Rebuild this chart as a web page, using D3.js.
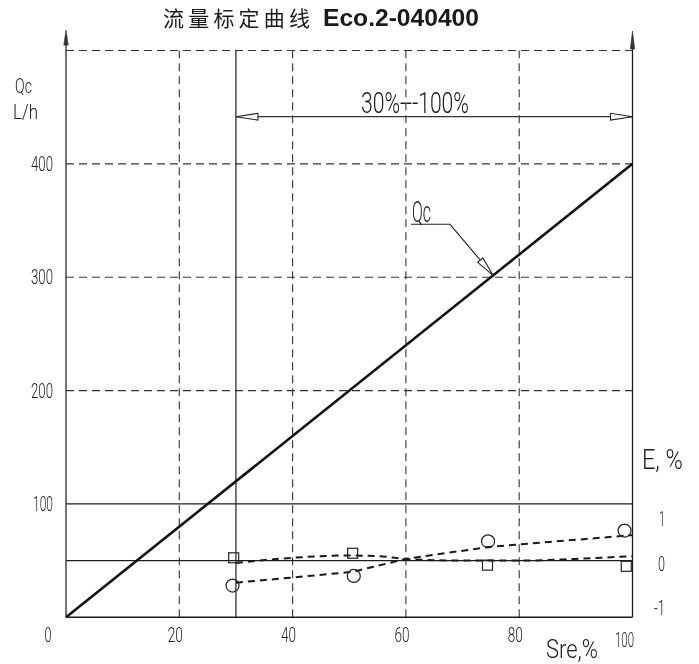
<!DOCTYPE html>
<html>
<head>
<meta charset="utf-8">
<script src="https://cdn.jsdelivr.net/npm/d3@7"></script>
<style>
  html, body { margin: 0; padding: 0; background: #fff; }
  svg { display: block; }
  .tech { font-family: Roboto, "DejaVu Sans", sans-serif; font-weight: 300; fill: #1a1a1a; }
</style>
</head>
<body>
<svg id="chart" width="699" height="664"></svg>
<script>
// Flow calibration curve: Qc (L/h) against stroke setting Sre (%),
// with the metering error E (%) plotted on the secondary band below.

const titleCn = "流量标定曲线";
const titleLatin = "Eco.2-040400";

const xTicks = [0, 20, 40, 60, 80, 100];
const yTicks = [100, 200, 300, 400];
const eTicks = [-1, 0, 1];
const gridX = [20, 40, 60, 80];
const gridYDashed = [200, 300, 400, 500];
const gridYSolid = [50, 100];

// Qc characteristic (straight line through the origin)
const qcX = [0, 100];
const qcQ = [0, 400];

// Error measurements, E in %
const squareX = [29.6, 50.6, 74.4, 98.9];
const squareE = [0.05, 0.13, -0.08, -0.10];
const circleX = [29.4, 50.8, 74.5, 98.6];
const circleE = [-0.44, -0.27, 0.34, 0.53];

// Fitted error trends
const squareFitX = [30, 40, 50, 55, 60, 70, 80, 90, 100];
const squareFitE = [-0.04, 0.05, 0.09, 0.08, 0.03, 0.0, 0.0, 0.03, 0.08];
const circleFitX = [30, 50.5, 60, 74.5, 100];
const circleFitE = [-0.39, -0.20, 0.03, 0.24, 0.45];

const rangeStart = 30, rangeEnd = 100;
const rangeLabel = "30%---100%";

const svg = d3.select("#chart");
const ink = "#1c1c1c";

const x = d3.scaleLinear().domain([0, 100]).range([66, 632.5]);
const y = d3.scaleLinear().domain([0, 500]).range([617.3, 50.5]);
const eY = e => y(50 + 50 * e);                       // E band: -1 .. 1 sits on Q 0 .. 100
const eLabelY = d3.scaleLinear().domain([-1, 1]).range([615, 526]);

const plot = svg.append("g");
const labels = svg.append("g").attr("opacity", 0.999);

// Narrow technical lettering: set at natural size, then squeezed to the given width
function tech(str, px, py, size, width, anchor) {
  const t = labels.append("text").attr("class", "tech")
    .attr("font-size", size)
    .attr("text-anchor", anchor || "start")
    .text(str);
  const w = t.node().getComputedTextLength() || width;
  t.attr("transform", `translate(${px},${py}) scale(${width / w},1)`);
  return t;
}

// ---- title
const title = labels.append("text").attr("y", 26).attr("fill", "#1a1a1a");
title.append("tspan").attr("x", 163)
  .attr("font-family", "'Noto Sans CJK SC', sans-serif")
  .attr("font-size", 21).attr("letter-spacing", 4.2)
  .text(titleCn);
title.append("tspan").attr("x", 323)
  .attr("font-family", "'Liberation Sans', Arial, sans-serif")
  .attr("font-weight", "bold").attr("font-size", 23)
  .attr("textLength", 156).attr("lengthAdjust", "spacingAndGlyphs")
  .text(titleLatin);

// ---- dashed grid
const dash = "8,5";
plot.append("g").selectAll("line").data(gridX).join("line")
  .attr("x1", d => x(d)).attr("x2", d => x(d))
  .attr("y1", y(0)).attr("y2", y(500))
  .attr("stroke", "#333").attr("stroke-width", 1.1).attr("stroke-dasharray", dash);
plot.append("g").selectAll("line").data(gridYDashed).join("line")
  .attr("x1", x(0)).attr("x2", x(100))
  .attr("y1", d => y(d)).attr("y2", d => y(d))
  .attr("stroke", "#333").attr("stroke-width", 1.1).attr("stroke-dasharray", dash);

// ---- solid reference lines of the E band
plot.append("g").selectAll("line").data(gridYSolid).join("line")
  .attr("x1", x(0)).attr("x2", x(100))
  .attr("y1", d => y(d)).attr("y2", d => y(d))
  .attr("stroke", ink).attr("stroke-width", 1.2);

// range start marker
plot.append("line")
  .attr("x1", x(rangeStart)).attr("x2", x(rangeStart))
  .attr("y1", y(0)).attr("y2", y(500))
  .attr("stroke", ink).attr("stroke-width", 1.2);

// ---- axes frame
plot.append("line").attr("x1", x(0)).attr("x2", x(100)).attr("y1", y(0)).attr("y2", y(0))
  .attr("stroke", ink).attr("stroke-width", 1.4);
plot.append("line").attr("x1", x(0)).attr("x2", x(0)).attr("y1", y(0)).attr("y2", 40)
  .attr("stroke", "#444").attr("stroke-width", 1.5);
plot.append("line").attr("x1", x(100)).attr("x2", x(100)).attr("y1", y(0)).attr("y2", 42)
  .attr("stroke", ink).attr("stroke-width", 1.3);

// axis arrowheads (narrow filled)
function upArrow(px, tip, len, half) {
  plot.append("path")
    .attr("d", `M${px},${tip} L${px - half},${tip + len} L${px + half},${tip + len} Z`)
    .attr("fill", "#333").attr("stroke", "#333").attr("stroke-width", 0.6);
}
upArrow(x(0), 30, 15, 2.2);
upArrow(x(100), 31, 18, 2.2);

// ---- range dimension line with open arrowheads
const dimY = 116.7;
plot.append("line").attr("x1", x(rangeStart)).attr("x2", x(rangeEnd))
  .attr("y1", dimY).attr("y2", dimY).attr("stroke", "#333").attr("stroke-width", 1.2);
function openArrow(tx, ty, dir, len, half) {
  plot.append("path")
    .attr("d", `M${tx},${ty} L${tx + dir * len},${ty - half} L${tx + dir * len},${ty + half} Z`)
    .attr("fill", "#fff").attr("stroke", "#222").attr("stroke-width", 1.1);
}
openArrow(x(rangeStart), dimY, 1, 22, 3.4);
openArrow(x(rangeEnd), dimY, -1, 22, 3.4);
tech(rangeLabel, 361, 113, 29, 108);

// ---- Qc line
const line = d3.line().x(d => x(d[0])).y(d => y(d[1]));
plot.append("path").datum(qcX.map((v, i) => [v, qcQ[i]]))
  .attr("d", line).attr("fill", "none")
  .attr("stroke", "#111").attr("stroke-width", 2.6);

// Qc callout with leader to the line
const calloutX = 75.4;
const tipX = x(calloutX), tipY = y(calloutX * qcQ[1] / qcX[1]);
const kneeX = 450, kneeY = 224.3;
plot.append("path").attr("d", `M411,${kneeY} L${kneeX},${kneeY} L${tipX},${tipY}`)
  .attr("fill", "none").attr("stroke", "#222").attr("stroke-width", 1.1);
{
  const ang = Math.atan2(tipY - kneeY, tipX - kneeX);
  const len = 20, half = 3.4;
  const bx = tipX - len * Math.cos(ang), by = tipY - len * Math.sin(ang);
  const nx = -Math.sin(ang) * half, ny = Math.cos(ang) * half;
  plot.append("path")
    .attr("d", `M${tipX},${tipY} L${bx + nx},${by + ny} L${bx - nx},${by - ny} Z`)
    .attr("fill", "#fff").attr("stroke", "#222").attr("stroke-width", 1.1);
}
tech("Qc", 412, 221.5, 29, 19);

// ---- error trends
const eLine = d3.line().x(d => x(d[0])).y(d => eY(d[1])).curve(d3.curveMonotoneX);
plot.append("path").datum(squareFitX.map((v, i) => [v, squareFitE[i]]))
  .attr("d", eLine).attr("fill", "none")
  .attr("stroke", "#1a1a1a").attr("stroke-width", 2).attr("stroke-dasharray", "7,5");
plot.append("path").datum(circleFitX.map((v, i) => [v, circleFitE[i]]))
  .attr("d", d3.line().x(d => x(d[0])).y(d => eY(d[1])))
  .attr("fill", "none")
  .attr("stroke", "#1a1a1a").attr("stroke-width", 2).attr("stroke-dasharray", "7,5");

// ---- error markers
const sq = 10;
plot.append("g").selectAll("rect").data(squareX.map((v, i) => [v, squareE[i]])).join("rect")
  .attr("x", d => x(d[0]) - sq / 2).attr("y", d => eY(d[1]) - sq / 2)
  .attr("width", sq).attr("height", sq)
  .attr("fill", "none").attr("stroke", "#222").attr("stroke-width", 1.2);
plot.append("g").selectAll("circle").data(circleX.map((v, i) => [v, circleE[i]])).join("circle")
  .attr("cx", d => x(d[0])).attr("cy", d => eY(d[1])).attr("r", 6.5)
  .attr("fill", "none").attr("stroke", "#222").attr("stroke-width", 1.2);

// ---- tick labels
xTicks.forEach(v => {
  const w = v === 0 ? 7 : (v === 100 ? 19 : 15);
  const dx = v === 0 ? -18 : (v === 100 ? -8 : -4);
  tech(String(v), x(v) + dx, v === 100 ? 647 : 642, 21, w, "middle");
});
yTicks.forEach(v => {
  tech(String(v), 53, y(v) + 7, 21, v === 100 ? 20 : 22, "end");
});
eTicks.forEach(v => {
  tech(String(v), 665, eLabelY(v), 21, v === -1 ? 11 : (v === 0 ? 7 : 6), "end");
});

// ---- axis titles
tech("Qc", 15, 93, 21, 17);
tech("L/h", 13, 119, 21, 25);
tech("E, %", 642, 469, 27, 41);
tech("Sre,%", 546, 658, 26, 52);
</script>
</body>
</html>
